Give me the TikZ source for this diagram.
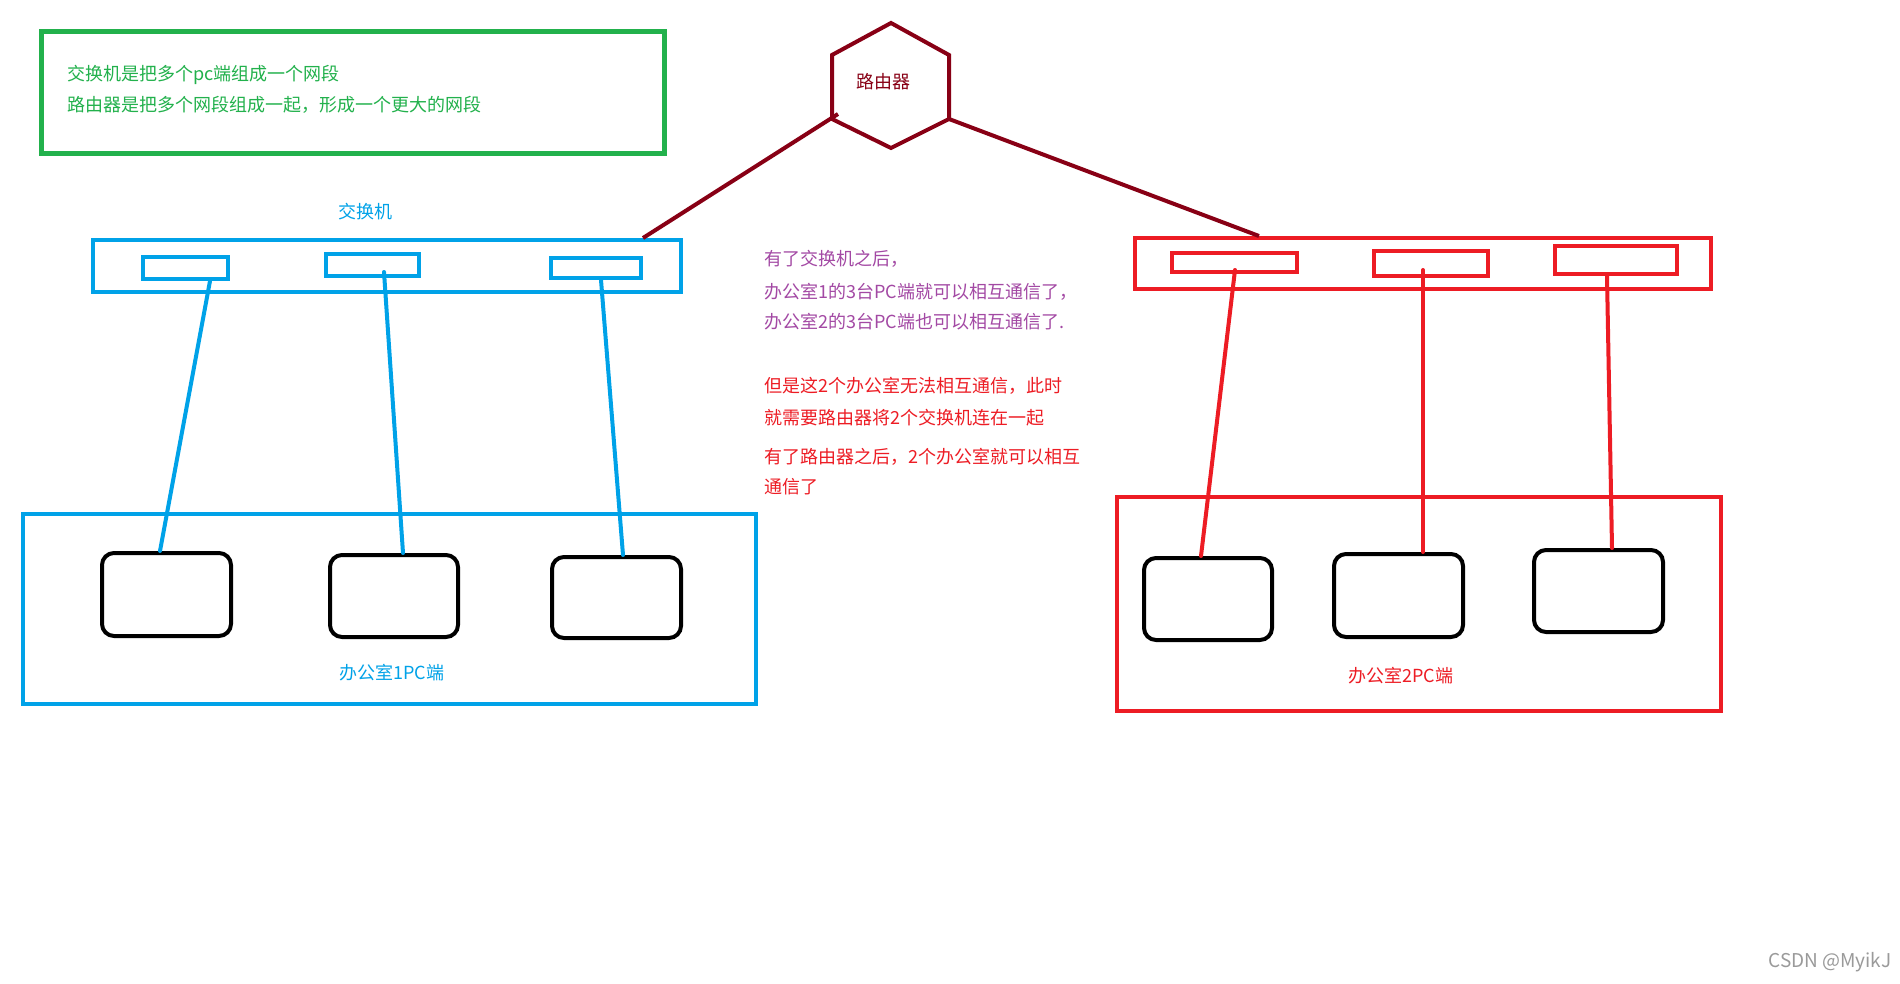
\documentclass[tikz,border=0pt]{standalone}
\usepackage{fontspec}
\setmainfont{Noto Sans CJK SC}
\usetikzlibrary{fit}
\definecolor{pgreen}{HTML}{22B14C}
\definecolor{pblue}{HTML}{00A2E8}
\definecolor{pred}{HTML}{ED1C24}
\definecolor{pdark}{HTML}{880015}
\definecolor{ppurple}{HTML}{A349A4}
\definecolor{wmgray}{HTML}{9A9A9A}
\begin{document}
\begin{tikzpicture}[x=0.5pt,y=-0.5pt,
  box/.style={draw, inner sep=0pt, line width=2pt},
  pcbox/.style={box, black, rounded corners=6pt},
  wire/.style={line width=2pt, line cap=round},
  txt/.style={inner sep=0pt, font=\fontsize{9pt}{11pt}\selectfont},
  note/.style={txt, anchor=west}]
\useasboundingbox (0,0) rectangle (1900,984);
\fill[white] (0,0) rectangle (1900,984);

% green note box
\node[box, pgreen, line width=2.5pt, fit={(41,32) (664,154)}] (legend) {};
\node[note, text=pgreen] (leg1) at (67,75) {交换机是把多个pc端组成一个网段};
\node[note, text=pgreen] (leg2) at (67,105) {路由器是把多个网段组成一起，形成一个更大的网段};

% router
\coordinate (hT) at (891,23);
\coordinate (hUR) at (949,55);
\coordinate (hLR) at (949,119);
\coordinate (hB) at (891,148);
\coordinate (hLL) at (832,119);
\coordinate (hUL) at (832,55);
\draw[pdark, line width=2pt] (hT) -- (hUR) -- (hLR) -- (hB) -- (hLL) -- (hUL) -- cycle;
\node[txt, text=pdark] (router) at (883,82) {路由器};
\coordinate (rtL) at (838,114);

% blue switch
\node[box, pblue, fit={(93,240) (681,292)}] (bsw) {};
\node[txt, text=pblue] (bswlabel) at (365,212) {交换机};
\node[box, pblue, fit={(143,257) (228,279)}] (bp1) {};
\node[box, pblue, fit={(326,254) (419,276)}] (bp2) {};
\node[box, pblue, fit={(551,258) (641,278)}] (bp3) {};

% blue office
\node[box, pblue, fit={(23,514) (756,704)}] (boff) {};
\node[pcbox, fit={(102,553) (231,636)}] (bpc1) {};
\node[pcbox, fit={(330,555) (458,637)}] (bpc2) {};
\node[pcbox, fit={(552,557) (681,638)}] (bpc3) {};
\node[txt, text=pblue] (bofflabel) at (392,673) {办公室1PC端};

\draw[wire, pblue] ([xshift=12.25pt]bp1.south) -- ([xshift=-3.25pt]bpc1.north);
\draw[wire, pblue] ([xshift=5.75pt,yshift=3pt]bp2.south) -- ([xshift=4.5pt]bpc2.north);
\draw[wire, pblue] ([xshift=2.5pt]bp3.south) -- ([xshift=3.25pt]bpc3.north);

% red switch
\node[box, pred, fit={(1135,238) (1711,289)}] (rsw) {};
\node[box, pred, fit={(1172,253) (1297,272)}] (rp1) {};
\node[box, pred, fit={(1374,251) (1488,276)}] (rp2) {};
\node[box, pred, fit={(1555,246) (1677,274)}] (rp3) {};

% red office
\node[box, pred, fit={(1117,497) (1721,711)}] (roff) {};
\node[pcbox, fit={(1144,558) (1272,640)}] (rpc1) {};
\node[pcbox, fit={(1334,554) (1463,637)}] (rpc2) {};
\node[pcbox, fit={(1534,550) (1663,632)}] (rpc3) {};
\node[txt, text=pred] (rofflabel) at (1401,676) {办公室2PC端};

\draw[wire, pred] ([xshift=0.25pt,yshift=2pt]rp1.south) -- ([xshift=-3.5pt]rpc1.north);
\draw[wire, pred] ([xshift=-4pt,yshift=4pt]rp2.south) -- ([xshift=12.25pt]rpc2.north);
\draw[wire, pred] ([xshift=-4.5pt]rp3.south) -- ([xshift=6.75pt]rpc3.north);

% router links
\draw[pdark, line width=2pt] (rtL) -- ([xshift=-20pt]bsw.north east);
\draw[pdark, line width=2pt] (hLR) -- ([xshift=63pt]rsw.north west);

% middle notes
\node[note, text=ppurple] (n1) at (764,259) {有了交换机之后，};
\node[note, text=ppurple] (n2) at (764,292) {办公室1的3台PC端就可以相互通信了，};
\node[note, text=ppurple] (n3) at (764,322) {办公室2的3台PC端也可以相互通信了.};
\node[note, text=pred] (n4) at (764,386) {但是这2个办公室无法相互通信，此时};
\node[note, text=pred] (n5) at (764,418) {就需要路由器将2个交换机连在一起};
\node[note, text=pred] (n6) at (764,457) {有了路由器之后，2个办公室就可以相互};
\node[note, text=pred] (n7) at (764,487) {通信了};

% watermark
\node[txt, anchor=east, text=wmgray, font=\fontsize{9.5pt}{11pt}\selectfont] (wm) at (1892,962) {CSDN @MyikJ};
\end{tikzpicture}
\end{document}
